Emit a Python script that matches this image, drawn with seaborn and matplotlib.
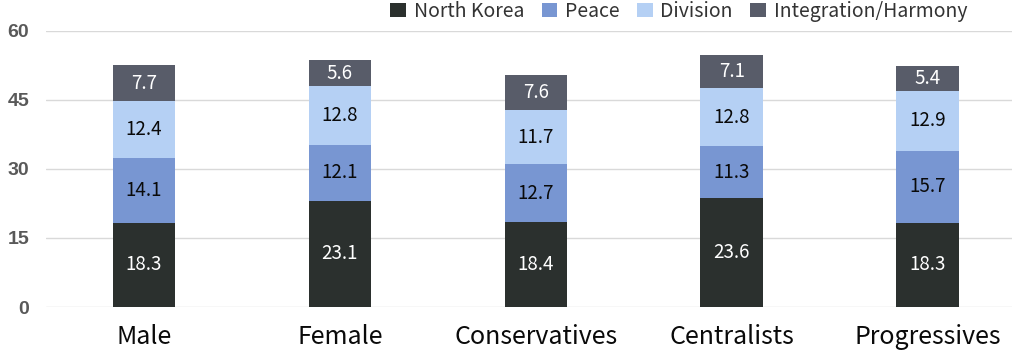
import matplotlib
matplotlib.use("Agg")
import matplotlib.pyplot as plt
import seaborn as sns
import numpy as np
import pandas as pd

categories = ["Male", "Female", "Conservatives", "Centralists", "Progressives"]
north_korea = [18.3, 23.1, 18.4, 23.6, 18.3]
peace = [14.1, 12.1, 12.7, 11.3, 15.7]
division = [12.4, 12.8, 11.7, 12.8, 12.9]
integration = [7.7, 5.6, 7.6, 7.1, 5.4]
series_names = ["North Korea", "Peace", "Division", "Integration/Harmony"]
colors = ["#2b302e", "#7896d2", "#b5d0f4", "#585c69"]
text_colors = ["white", "#0a0a0a", "#0a0a0a", "white"]
yticks = [0, 15, 30, 45, 60]

sns.set_theme(style="white")
plt.rcParams['font.family'] = ['Noto Sans CJK KR', 'DejaVu Sans']

fig = plt.figure(figsize=(10.15, 3.6), dpi=100)
ax = fig.add_axes([46/1015, 53/360, (1012-46)/1015, (307-31)/360])

series = [north_korea, peace, division, integration]
bottom = np.zeros(len(categories))
for name, vals, col, tc in zip(series_names, series, colors, text_colors):
    df = pd.DataFrame({"cat": categories, "val": vals})
    sns.barplot(data=df, x="cat", y="val", bottom=bottom, color=col, width=0.32,
                ax=ax, label=name, saturation=1, linewidth=0)
    for i, v in enumerate(vals):
        ax.text(i, bottom[i] + v / 2, f"{v}", ha="center", va="center",
                color=tc, fontsize=13.5)
    bottom = bottom + np.array(vals)

ax.set_ylim(0, 60)
ax.set_xlim(-0.5, 4.43)
ax.yaxis.grid(True, color="#d9d9d9", linewidth=1)
ax.set_axisbelow(True)
ax.tick_params(axis="y", length=0, pad=12)
ax.tick_params(axis="x", length=0, pad=12, labelsize=18, labelcolor="#0a0a0a")
ax.set_xlabel("")
ax.set_ylabel("")
for s in ax.spines.values():
    s.set_visible(False)

ax.legend(loc="lower center", bbox_to_anchor=(0.655, 0.97), ncol=4, frameon=False,
          fontsize=14, handlelength=0.8, handleheight=0.8, handletextpad=0.4,
          columnspacing=0.9, labelcolor="#333333")

ax.set_yticks(yticks, labels=[str(t) for t in yticks], fontsize=14,
              fontweight="bold", fontfamily="Liberation Sans", color="#595959")

fig.savefig("out.png", dpi=100)
